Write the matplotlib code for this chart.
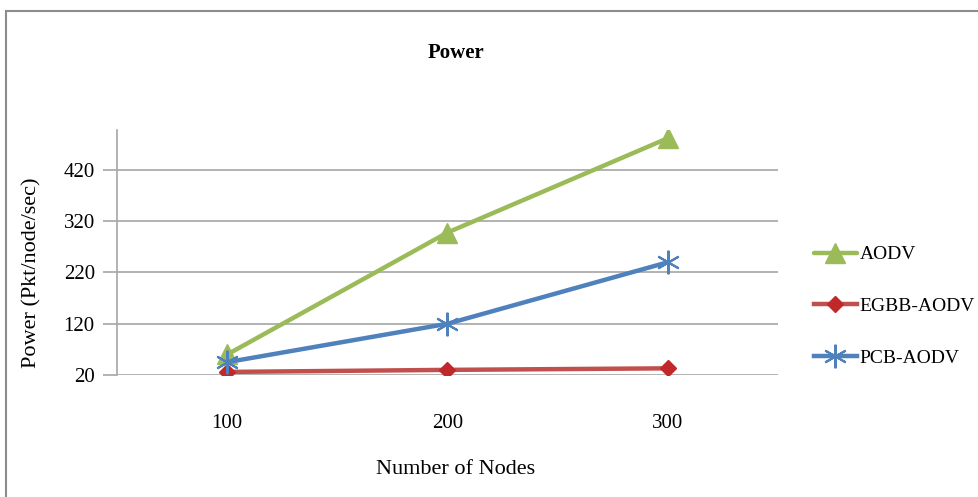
import matplotlib.pyplot as plt
from matplotlib.patches import Rectangle

plt.rcParams['font.family'] = ['Liberation Serif', 'DejaVu Serif']

nodes = [100, 200, 300]
aodv = [60, 298, 482]
egbb_aodv = [26, 30, 33]
pcb_aodv = [45, 120, 240]
yticks = [20, 120, 220, 320, 420]

W, H = 979, 497
fig = plt.figure(figsize=(W / 100, H / 100), dpi=100)

# chart frame (runs off the right and bottom edges)
fig.patches.append(Rectangle((6 / W, -0.1), 1.2, 1 - 11 / H + 0.1,
                             transform=fig.transFigure, fill=False,
                             edgecolor='#8c8c8c', linewidth=1.5))

ax = fig.add_axes([117 / W, 1 - 375 / H, (778 - 117) / W, (375 - 130) / H])
ax.plot(nodes, aodv, color='#9bbb59', lw=3.2, marker='^', ms=15,
        mfc='#9bbb59', mec='#9bbb59', label='AODV', solid_capstyle='round')
ax.plot(nodes, egbb_aodv, color='#c0504d', lw=3.2, marker='D', ms=8,
        mfc='#c0282a', mec='#c0282a', label='EGBB-AODV')
ax.plot(nodes, pcb_aodv, color='#4f81bd', lw=3.2, marker=(6, 2, 0), ms=17,
        mec='#4f81bd', mew=1.5, label='PCB-AODV')

ax.set_xlim(50, 350)
ax.set_ylim(20, 498)
ax.set_xticks(nodes)
ax.set_yticks(yticks)
ax.grid(axis='y', color='#a6a6a6', lw=1.2)
ax.set_axisbelow(True)
for s in ['top', 'right', 'bottom']:
    ax.spines[s].set_visible(False)
ax.spines['left'].set_color('#a6a6a6')
ax.spines['left'].set_linewidth(1.2)
ax.tick_params(axis='y', length=10, width=1.2, color='#a6a6a6', labelsize=15, pad=6)
ax.tick_params(axis='x', length=0, labelsize=15, pad=28)

fig.text(456 / W, 1 - 53 / H, 'Power', ha='center', va='center',
         fontsize=15, fontweight='bold')
fig.text(32 / W, 1 - 273 / H, 'Power (Pkt/node/sec)', ha='center', va='center',
         rotation=90, fontsize=16)
fig.text(456 / W, 1 - 469 / H, 'Number of Nodes', ha='center', va='center',
         fontsize=16)

fig.legend(loc='upper left', bbox_to_anchor=(806 / W, 1 - 238 / H),
           frameon=False, fontsize=14, handlelength=2.2, handletextpad=0.15,
           labelspacing=1.75, borderaxespad=0)

fig.savefig('out.png', dpi=100)
